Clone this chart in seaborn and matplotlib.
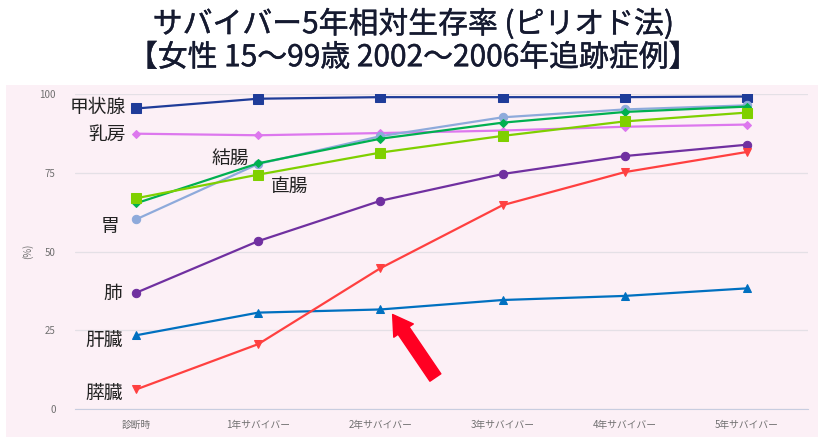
import numpy as np
import pandas as pd
import matplotlib
matplotlib.use('Agg')
import matplotlib.pyplot as plt
import matplotlib.patheffects as pe
from matplotlib.patches import Rectangle
import seaborn as sns

sns.set_style('white')
plt.rcParams['font.family'] = ['Noto Sans CJK JP', 'DejaVu Sans']

# data
stages = ['診断時', '1年サバイバー', '2年サバイバー', '3年サバイバー', '4年サバイバー', '5年サバイバー']
thyroid = [95.4, 98.5, 99.0, 99.0, 99.0, 99.2]
breast = [87.4, 86.9, 87.6, 88.4, 89.6, 90.3]
stomach = [60.2, 77.8, 86.6, 92.6, 95.1, 96.4]
colon = [65.3, 78.0, 85.8, 90.9, 94.3, 96.0]
rectum = [66.9, 74.4, 81.4, 86.7, 91.3, 94.1]
lung = [36.9, 53.3, 66.1, 74.6, 80.3, 83.9]
liver = [23.4, 30.6, 31.6, 34.6, 35.9, 38.3]
pancreas = [6.2, 20.6, 44.7, 64.7, 75.2, 81.6]

sites = ['甲状腺', '乳房', '胃', '結腸', '直腸', '肺', '肝臓', '膵臓']
values = [thyroid, breast, stomach, colon, rectum, lung, liver, pancreas]
colors = ['#1f3c99', '#dd77ee', '#8eaadb', '#00b050', '#7fd000', '#7030a0', '#0070c0', '#ff4040']
markers = ['s', 'D', 'o', 'D', 's', 'o', '^', 'v']
msizes = [6.5, 4.5, 6, 4.5, 7, 6, 5.5, 5.5]

df = pd.DataFrame({'stage': stages * len(sites),
                   'site': np.repeat(sites, len(stages)),
                   'value': np.concatenate(values)})

fig = plt.figure(figsize=(8.27, 4.37), dpi=100)
fig.patches.append(Rectangle((6/827, 0), 812/827, 0.805, transform=fig.transFigure,
                             facecolor='#fcf0f6', edgecolor='none', zorder=-5))
ax = fig.add_axes([75/827, 28/437, 733/827, 315/437])
ax.set_zorder(2)
ax.set_facecolor('none')

for site, c, m, ms in zip(sites, colors, markers, msizes):
    sub = df[df['site'] == site]
    sns.lineplot(data=sub, x='stage', y='value', color=c, marker=m, markersize=ms,
                 markeredgecolor=c, linewidth=1.6, sort=False, ax=ax)

ax.set_xlim(-0.5, 5.5)
ax.set_ylim(0, 100)
ax.set_yticks([0, 25, 50, 75, 100])
ax.yaxis.grid(True, color='#e4e0e6', linewidth=0.9)
ax.set_axisbelow(True)
ax.tick_params(axis='both', length=0, labelsize=7, labelcolor='#707070')
ax.tick_params(axis='y', pad=14)
ax.tick_params(axis='x', pad=8)
for s in ['top', 'right', 'left']:
    ax.spines[s].set_visible(False)
ax.spines['bottom'].set_color('#c8cde0')
ax.set_xlabel('')
ax.set_ylabel('(%)', fontsize=7, color='#707070', labelpad=4)

# site labels
lab_kw = dict(fontsize=13.5, color='#222222', va='center')
ax.text(-0.08, 95.6, '甲状腺', ha='right', **lab_kw)
ax.text(-0.08, 87.3, '乳房', ha='right', **lab_kw)
ax.text(-0.14, 57.8, '胃', ha='right', **lab_kw)
ax.text(-0.11, 36.8, '肺', ha='right', **lab_kw)
ax.text(-0.11, 21.3, '肝臓', ha='right', **lab_kw)
ax.text(-0.11, 4.8, '膵臓', ha='right', **lab_kw)
ax.text(0.77, 79.7, '結腸', ha='center', **lab_kw)
ax.text(1.26, 70.8, '直腸', ha='center', **lab_kw)

# red arrow pointing at the liver line
ax.annotate('', xy=(2.10, 30.0), xytext=(2.45, 10.0),
            arrowprops=dict(arrowstyle='simple,head_width=1.7,head_length=1.4,tail_width=0.95',
                            color='#ff0022', shrinkA=0, shrinkB=0))

title_fx = [pe.withStroke(linewidth=0.3, foreground='#151a30')]
fig.text(0.5, 0.944, 'サバイバー5年相対生存率 (ピリオド法)', ha='center', va='center',
         fontsize=21.5, color='#151a30', path_effects=title_fx)
fig.text(0.5, 0.868, '【女性 15～99歳 2002～2006年追跡症例】', ha='center', va='center',
         fontsize=21.5, color='#151a30', path_effects=title_fx)

fig.savefig('out.png', dpi=100)
